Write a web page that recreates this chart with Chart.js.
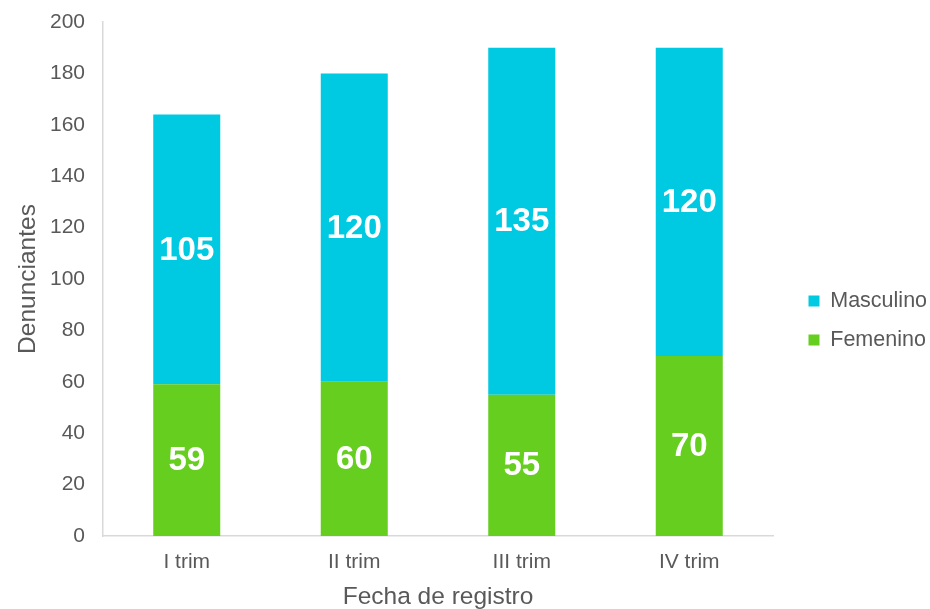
<!DOCTYPE html>
<html>
<head>
<meta charset="utf-8">
<script src="https://cdn.jsdelivr.net/npm/chart.js@4.4.1/dist/chart.umd.min.js"></script>
<style>
html,body{margin:0;padding:0;background:#fff;}
#wrap{width:930px;height:609px;position:relative;}
</style>
</head>
<body>
<div id="wrap"><canvas id="c" width="930" height="609"></canvas></div>
<script>
const categories = ["I trim", "II trim", "III trim", "IV trim"];
const femenino = [59, 60, 55, 70];
const masculino = [105, 120, 135, 120];
const seriesNames = ["Femenino", "Masculino"];
const yTicks = [0, 20, 40, 60, 80, 100, 120, 140, 160, 180, 200];
const xTitle = "Fecha de registro";
const yTitle = "Denunciantes";

const FONT = "'Liberation Sans', Arial, sans-serif";
const GREY = "#595959";

const barLabels = {
  id: 'barLabels',
  afterDatasetsDraw(chart) {
    const ctx = chart.ctx;
    ctx.save();
    ctx.fillStyle = '#ffffff';
    ctx.font = "bold 33px " + FONT;
    ctx.textAlign = 'center';
    ctx.textBaseline = 'middle';
    chart.data.datasets.forEach((ds, di) => {
      const meta = chart.getDatasetMeta(di);
      meta.data.forEach((el, i) => {
        const y = (el.y + el.base) / 2;
        ctx.fillText(String(ds.data[i]), el.x, y + 1);
      });
    });
    ctx.restore();
  }
};

const legendTweak = {
  id: 'legendTweak',
  beforeLayout(chart) {
    const lg = chart.legend;
    if (!lg || lg._tweaked) return;
    lg._tweaked = true;
    const origFit = lg.fit.bind(lg);
    lg.fit = function () { origFit(); this.width = 930 - 773; };
    const origDraw = lg.draw.bind(lg);
    lg.draw = function () {
      const ctx = this.ctx;
      ctx.save();
      ctx.translate(18, 5);
      origDraw();
      ctx.restore();
    };
  }
};

new Chart(document.getElementById('c'), {
  type: 'bar',
  data: {
    labels: categories,
    datasets: [
      { label: seriesNames[0], data: femenino, backgroundColor: '#65CE1F', borderWidth: 0 },
      { label: seriesNames[1], data: masculino, backgroundColor: '#00C9E2', borderWidth: 0 }
    ]
  },
  options: {
    responsive: false,
    animation: false,
    devicePixelRatio: 1,
    layout: { padding: { top: 22, left: 0, right: 0, bottom: 0 } },
    datasets: { bar: { barPercentage: 0.4, categoryPercentage: 1.0 } },
    plugins: {
      tooltip: { enabled: false },
      legend: {
        position: 'right',
        reverse: true,
        labels: {
          boxWidth: 11,
          boxHeight: 11,
          padding: 17.5,
          color: GREY,
          font: { family: FONT, size: 21.5 }
        }
      }
    },
    scales: {
      x: {
        stacked: true,
        grid: { display: false, drawTicks: false },
        border: { display: true, color: '#D9D9D9', width: 1.5 },
        ticks: { color: GREY, font: { family: FONT, size: 21 }, padding: 14 },
        title: { display: true, text: xTitle, color: GREY, font: { family: FONT, size: 24.5, lineHeight: 1.0 }, padding: { top: 0, bottom: 0 } },
        afterFit(s) { s.height = 73; s.paddingLeft = 0; s.paddingRight = 0; }
      },
      y: {
        stacked: true,
        min: 0,
        max: 200,
        grid: { display: false, drawTicks: false },
        border: { display: true, color: '#D9D9D9', width: 1.5 },
        afterBuildTicks(s) { s.ticks = yTicks.map(v => ({ value: v })); },
        ticks: { color: GREY, font: { family: FONT, size: 21 }, padding: 18 },
        title: { display: true, text: yTitle, color: GREY, font: { family: FONT, size: 24.5, lineHeight: 1.0 }, padding: { top: 16, bottom: 0 } },
        afterFit(s) { s.width = 103; s.paddingTop = 0; s.paddingBottom = 0; }
      }
    }
  },
  plugins: [barLabels, legendTweak]
});
</script>
</body>
</html>
